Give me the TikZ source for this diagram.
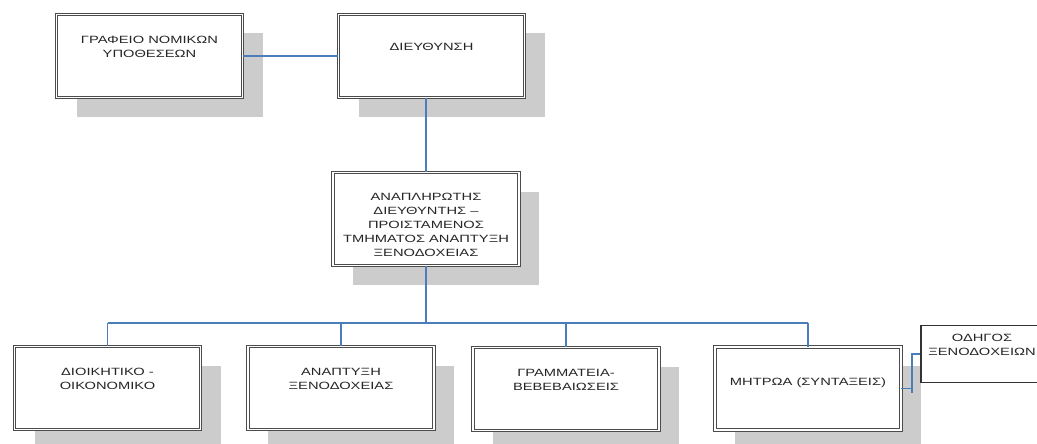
\documentclass[tikz,border=0pt]{standalone}
\usepackage{fontspec}
\setmainfont{Liberation Sans}[FakeStretch=1.4]
\usetikzlibrary{shadows}
\definecolor{linkblue}{HTML}{4A7EBB}
\definecolor{shadowgray}{HTML}{CCCCCC}
\tikzset{
  unit/.style={rectangle, draw=black!70, double=white, line width=0.9pt,
    double distance=1.4pt, fill=white, minimum width=186pt, minimum height=83pt,
    align=center, font=\fontsize{10.5}{14}\selectfont, text=black!85,
    text depth=18pt,
    drop shadow={shadow xshift=20pt, shadow yshift=-19pt, fill=shadowgray, opacity=1}},
  note/.style={rectangle, draw=black!80, line width=1.3pt, fill=white,
    minimum width=122pt, minimum height=57pt, align=center,
    font=\fontsize{10.5}{14}\selectfont, text=black!85, text depth=18pt},
  link/.style={draw=linkblue, line width=1.4pt}
}
\begin{document}
\begin{tikzpicture}[x=1pt,y=-1pt]
  \useasboundingbox (0,0) rectangle (1037,444);
  \node[unit] (grafeio) at (149.5,56) {ΓΡΑΦΕΙΟ ΝΟΜΙΚΩΝ\\ΥΠΟΘΕΣΕΩΝ};
  \node[unit] (dieythynsi) at (431.5,56) {ΔΙΕΥΘΥΝΣΗ};
  \node[unit, minimum height=93pt, text height=74pt, text depth=0pt] (anapl) at (426,219)
    {ΑΝΑΠΛΗΡΩΤΗΣ\\ΔΙΕΥΘΥΝΤΗΣ –\\ΠΡΟΙΣΤΑΜΕΝΟΣ\\ΤΜΗΜΑΤΟΣ ΑΝΑΠΤΥΞΗ\\ΞΕΝΟΔΟΧΕΙΑΣ};
  \node[unit] (dioik) at (107.5,388) {ΔΙΟΙΚΗΤΙΚΟ -\\ΟΙΚΟΝΟΜΙΚΟ};
  \node[unit] (anapt) at (341,388) {ΑΝΑΠΤΥΞΗ\\ΞΕΝΟΔΟΧΕΙΑΣ};
  \node[unit] (gramm) at (566,389) {ΓΡΑΜΜΑΤΕΙΑ-\\ΒΕΒΕΒΑΙΩΣΕΙΣ};
  \node[unit, text depth=14pt] (mitroa) at (808,388.5) {ΜΗΤΡΩΑ (ΣΥΝΤΑΞΕΙΣ)};
  \node[note] (odigos) at (982,354) {ΟΔΗΓΟΣ\\ΞΕΝΟΔΟΧΕΙΩΝ};

  % connectors
  \coordinate (bus) at (426,323);
  \coordinate (jn) at (912,393);
  \draw[link] (grafeio.east) -- (dieythynsi.west);
  \draw[link] (dieythynsi.south -| anapl.north) -- (anapl.north);
  \draw[link] (anapl.south) -- (anapl.south |- bus);
  \draw[link] (dioik.north |- bus) -- (mitroa.north |- bus);
  \foreach \n in {dioik,anapt,gramm,mitroa}
    \draw[link] (\n.north |- bus) -- (\n.north);
  \draw[link] (mitroa.east) -- (mitroa.east -| jn);
  \draw[link] (jn) |- (odigos.west);
\end{tikzpicture}
\end{document}
